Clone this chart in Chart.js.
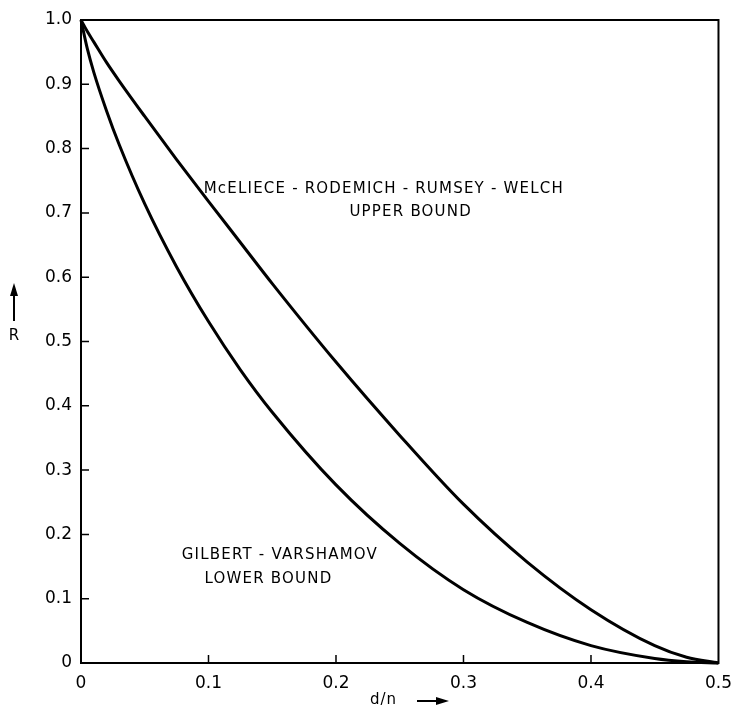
<!DOCTYPE html>
<html>
<head>
<meta charset="utf-8">
<script src="https://cdn.jsdelivr.net/npm/chart.js@4.4.0/dist/chart.umd.min.js"></script>
<style>
  html, body { margin: 0; padding: 0; background: #fff; }
  #wrap { width: 742px; height: 707px; position: relative; }
</style>
</head>
<body>
<div id="wrap"><canvas id="chart"></canvas></div>
<script>
const dn = [0, 0.005, 0.01, 0.02, 0.03, 0.05, 0.075, 0.1, 0.125, 0.15, 0.2, 0.25, 0.3, 0.35, 0.4, 0.45, 0.475, 0.5];
// McEliece-Rodemich-Rumsey-Welch upper bound
const upperBound = [1.0, 0.982, 0.966, 0.934, 0.905, 0.850, 0.783, 0.718, 0.654, 0.590, 0.468, 0.354, 0.247, 0.157, 0.083, 0.027, 0.009, 0];
// Gilbert-Varshamov lower bound
const lowerBound = [1.0, 0.955, 0.919, 0.859, 0.806, 0.714, 0.616, 0.531, 0.456, 0.390, 0.277, 0.186, 0.114, 0.063, 0.027, 0.007, 0.002, 0];

const xTicks = [0, 0.1, 0.2, 0.3, 0.4, 0.5];
const yTicks = [0, 0.1, 0.2, 0.3, 0.4, 0.5, 0.6, 0.7, 0.8, 0.9, 1.0];

// curve captions, in data coordinates
const captions = [
  { text: 'McELIECE - RODEMICH - RUMSEY - WELCH', x: 0.2375, y: 0.737 },
  { text: 'UPPER BOUND', x: 0.2586, y: 0.701 },
  { text: 'GILBERT - VARSHAMOV', x: 0.156, y: 0.168 },
  { text: 'LOWER BOUND', x: 0.147, y: 0.131 },
];

const FONT = '"DejaVu Sans", sans-serif';

const toPoints = (xs, ys) => xs.map((x, i) => ({ x: x, y: ys[i] }));

// frame, inward tick marks, captions and axis arrows
const decorations = {
  id: 'decorations',
  afterDatasetsDraw(chart) {
    const ctx = chart.ctx;
    const area = chart.chartArea;
    const xs = chart.scales.x;
    const ys = chart.scales.y;
    ctx.save();
    ctx.strokeStyle = '#000';
    ctx.lineWidth = 2;
    ctx.strokeRect(area.left, area.top, area.right - area.left, area.bottom - area.top);

    ctx.lineWidth = 1.5;
    ctx.beginPath();
    yTicks.slice(1, -1).forEach(v => {
      const py = ys.getPixelForValue(v);
      ctx.moveTo(area.left, py);
      ctx.lineTo(area.left + 8, py);
    });
    xTicks.slice(1, -1).forEach(v => {
      const px = xs.getPixelForValue(v);
      ctx.moveTo(px, area.bottom);
      ctx.lineTo(px, area.bottom - 8);
    });
    ctx.stroke();

    ctx.fillStyle = '#000';
    ctx.font = '15px ' + FONT;
    ctx.letterSpacing = '1.2px';
    ctx.textAlign = 'center';
    ctx.textBaseline = 'middle';
    captions.forEach(c => {
      ctx.fillText(c.text, xs.getPixelForValue(c.x), ys.getPixelForValue(c.y));
    });

    // R with upward arrow
    const ax = 14;
    ctx.lineWidth = 2;
    ctx.beginPath();
    ctx.moveTo(ax, 321);
    ctx.lineTo(ax, 292);
    ctx.stroke();
    ctx.beginPath();
    ctx.moveTo(ax, 283);
    ctx.lineTo(ax - 4, 296);
    ctx.lineTo(ax + 4, 296);
    ctx.closePath();
    ctx.fill();
    ctx.letterSpacing = '0px';
    ctx.fillText('R', ax, 336);

    // d/n with right arrow
    ctx.textAlign = 'left';
    ctx.letterSpacing = '1px';
    ctx.fillText('d/n', 370, 700);
    ctx.beginPath();
    ctx.moveTo(417, 701);
    ctx.lineTo(438, 701);
    ctx.stroke();
    ctx.beginPath();
    ctx.moveTo(449, 701);
    ctx.lineTo(436, 697);
    ctx.lineTo(436, 705);
    ctx.closePath();
    ctx.fill();
    ctx.restore();
  }
};

new Chart(document.getElementById('chart'), {
  type: 'scatter',
  data: {
    datasets: [
      {
        label: 'McEliece-Rodemich-Rumsey-Welch upper bound',
        data: toPoints(dn, upperBound),
        showLine: true,
        borderColor: '#000',
        borderWidth: 3,
        pointRadius: 0,
        cubicInterpolationMode: 'monotone',
        clip: false,
      },
      {
        label: 'Gilbert-Varshamov lower bound',
        data: toPoints(dn, lowerBound),
        showLine: true,
        borderColor: '#000',
        borderWidth: 3,
        pointRadius: 0,
        cubicInterpolationMode: 'monotone',
        clip: false,
      },
    ],
  },
  options: {
    responsive: true,
    maintainAspectRatio: false,
    animation: false,
    layout: { padding: { left: 0, right: 21, top: 20, bottom: 0 } },
    plugins: {
      legend: { display: false },
      tooltip: { enabled: false },
    },
    scales: {
      x: {
        type: 'linear',
        min: 0,
        max: 0.5,
        afterFit: scale => { scale.height = 44; },
        afterBuildTicks: scale => { scale.ticks = xTicks.map(v => ({ value: v })); },
        grid: { display: false, drawTicks: false },
        border: { display: false },
        ticks: {
          padding: 10,
          color: '#000',
          font: { family: FONT, size: 17 },
          callback: v => (v === 0 ? '0' : v.toFixed(1)),
        },
      },
      y: {
        type: 'linear',
        min: 0,
        max: 1,
        afterFit: scale => { scale.width = 81; },
        afterBuildTicks: scale => { scale.ticks = yTicks.map(v => ({ value: v })); },
        grid: { display: false, drawTicks: false },
        border: { display: false },
        ticks: {
          padding: 9,
          color: '#000',
          font: { family: FONT, size: 17 },
          callback: v => (v === 0 ? '0' : v.toFixed(1)),
        },
      },
    },
  },
  plugins: [decorations],
});
</script>
</body>
</html>
